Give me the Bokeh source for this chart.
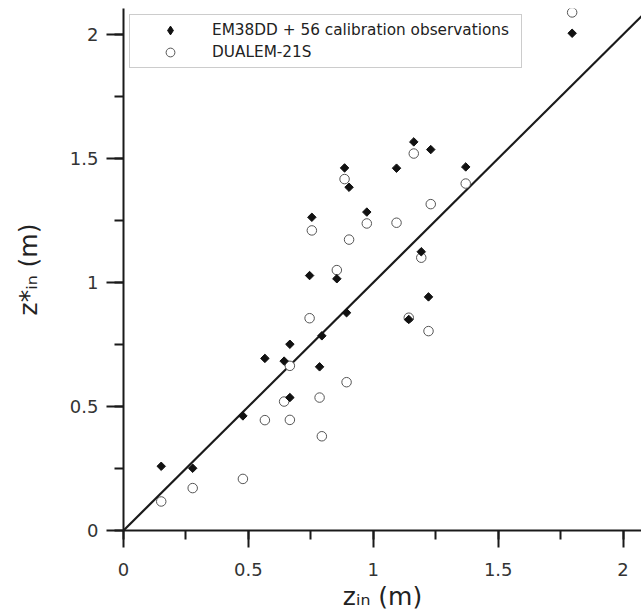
import math
from bokeh.plotting import figure
from bokeh.models import (Range1d, SingleIntervalTicker, CustomJSTickFormatter,
                          Legend, LegendItem)
from bokeh.embed import file_html
from bokeh.resources import INLINE

# ---- data ----
z_in = [0.151, 0.277, 0.478, 0.566, 0.643, 0.666, 0.666, 0.745, 0.754, 0.785,
        0.794, 0.854, 0.885, 0.893, 0.903, 0.974, 1.093, 1.142, 1.162, 1.192,
        1.221, 1.230, 1.370, 1.796]
em38dd = [0.259, 0.251, 0.462, 0.694, 0.683, 0.751, 0.536, 1.028, 1.263, 0.660,
          0.785, 1.015, 1.462, 0.878, 1.384, 1.284, 1.461, 0.851, 1.567, 1.124,
          0.942, 1.536, 1.466, 2.005]
dualem = [0.117, 0.171, 0.208, 0.445, 0.520, 0.664, 0.446, 0.856, 1.210, 0.536,
          0.380, 1.050, 1.417, 0.598, 1.173, 1.238, 1.241, 0.858, 1.520, 1.100,
          0.804, 1.316, 1.399, 2.089]
one_to_one = [0.0, 2.3]
series_labels = ["EM38DD + 56 calibration observations", "DUALEM-21S"]
x_title = "z\u1d62\u2099 (m)"
y_title = "z*\u1d62\u2099 (m)"

# ---- layout ----
W, H = 641, 613
FRAME_L, FRAME_T = 123, 8
FRAME_W, FRAME_H = 518, 522
XPX, YPX = 249.8, 248.0            # pixels per unit

p = figure(width=W, height=H, output_backend="svg", toolbar_location=None,
           x_range=Range1d(0, FRAME_W / XPX), y_range=Range1d(0, FRAME_H / YPX),
           min_border_left=FRAME_L, min_border_right=0, min_border_top=FRAME_T,
           min_border_bottom=H - FRAME_H - FRAME_T)
p.xgrid.visible = False
p.ygrid.visible = False
p.outline_line_color = None
p.background_fill_color = "white"
p.border_fill_color = "white"

fmt = "return String(Math.round(tick*100)/100);"
for ax in (p.xaxis[0], p.yaxis[0]):
    ax.ticker = SingleIntervalTicker(interval=0.5, num_minor_ticks=2)
    ax.formatter = CustomJSTickFormatter(code=fmt)
    ax.axis_line_width = 2
    ax.axis_line_color = "#1a1a1a"
    ax.major_tick_line_width = 2
    ax.minor_tick_line_width = 2
    ax.major_tick_line_color = "#1a1a1a"
    ax.minor_tick_line_color = "#1a1a1a"
    ax.major_tick_in = 0
    ax.major_tick_out = 17
    ax.minor_tick_in = 0
    ax.minor_tick_out = 9
    ax.major_label_text_font = "DejaVu Sans"
    ax.major_label_text_font_size = "18px"
    ax.major_label_text_color = "#333333"
    ax.axis_label_text_font = "DejaVu Sans"
    ax.axis_label_text_font_size = "25px"
    ax.axis_label_text_font_style = "normal"
    ax.axis_label_text_color = "#222222"
p.xaxis[0].major_label_standoff = 15
p.yaxis[0].major_label_standoff = 8
p.xaxis[0].axis_label = x_title
p.yaxis[0].axis_label = y_title
p.xaxis[0].axis_label_standoff = 3
p.yaxis[0].axis_label_standoff = 24

p.line(one_to_one, one_to_one, line_color="#1a1a1a", line_width=2.2)

r_c = p.scatter(z_in, dualem, marker="circle", size=9.5, fill_color="white",
                line_color="#555555", line_width=1)
# small diamonds hidden beneath the rotated squares; they provide the legend swatch
r_key = p.scatter(z_in, em38dd, marker="diamond", size=6,
                  fill_color="#111111", line_color="#111111", line_width=1)
r_d = p.scatter(z_in, em38dd, marker="square", angle=math.pi / 4, size=6,
                fill_color="#111111", line_color="#111111", line_width=1)

legend = Legend(items=[LegendItem(label=series_labels[0], renderers=[r_key]),
                       LegendItem(label=series_labels[1], renderers=[r_c])],
                location="top_left", margin=6, padding=4, glyph_width=72,
                glyph_height=22, label_height=22, spacing=0, label_standoff=6,
                label_width=305,
                border_line_color="#999999", border_line_width=1,
                background_fill_color="white", background_fill_alpha=1,
                label_text_font="DejaVu Sans", label_text_font_size="15.3px",
                label_text_color="#222222")
p.add_layout(legend)

open("out.html", "w").write(file_html(p, INLINE))
